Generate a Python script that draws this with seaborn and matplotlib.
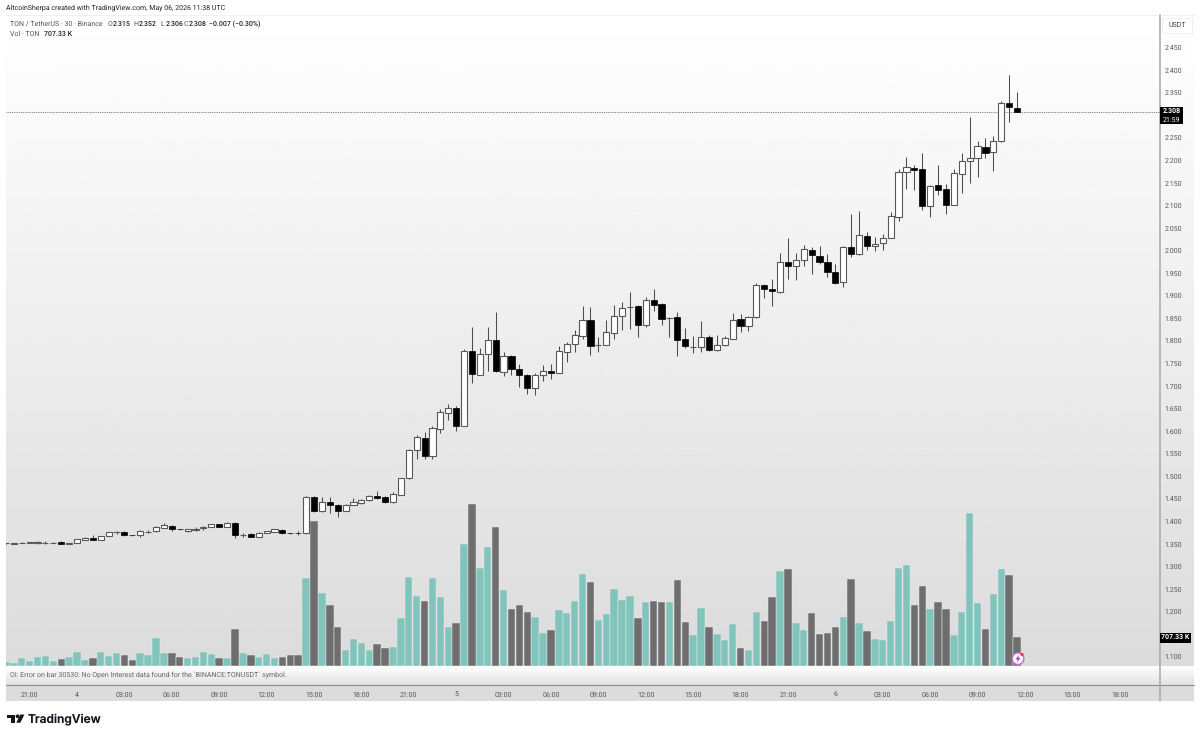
"""TON / USDT 30 min candles with volume, TradingView look."""
import numpy as np, pandas as pd
import matplotlib
matplotlib.use("Agg")
import matplotlib.pyplot as plt
from matplotlib.patches import Rectangle, Circle, Polygon
import seaborn as sns

opens = [1.351,1.350,1.353,1.353,1.353,1.352,1.353,1.355,1.349,1.353,
         1.358,1.363,1.359,1.368,1.376,1.376,1.3695,1.369,1.377,1.378,
         1.386,1.390,1.3825,1.379,1.380,1.386,1.388,1.393,1.388,1.397,
         1.370,1.371,1.366,1.374,1.377,1.380,1.3735,1.3735,1.373,1.453,
         1.423,1.443,1.437,1.423,1.437,1.440,1.447,1.456,1.453,1.442,
         1.459,1.495,1.559,1.585,1.544,1.605,1.641,1.652,1.612,1.777,
         1.725,1.770,1.802,1.731,1.767,1.737,1.725,1.696,1.724,1.734,
         1.729,1.776,1.793,1.810,1.845,1.790,1.791,1.817,1.856,1.875,
         1.876,1.834,1.891,1.881,1.851,1.853,1.804,1.787,1.787,1.809,
         1.779,1.791,1.805,1.849,1.832,1.852,1.924,1.915,1.909,1.975,
         1.965,1.979,2.002,1.988,1.975,1.953,1.930,2.008,1.993,2.033,
         2.010,2.016,2.028,2.075,2.173,2.183,2.180,2.098,2.145,2.136,
         2.101,2.170,2.198,2.204,2.230,2.219,2.242,2.328,2.315]
closes = [1.351,1.352,1.353,1.354,1.354,1.352,1.353,1.350,1.353,1.360,
          1.364,1.359,1.367,1.376,1.376,1.370,1.369,1.378,1.377,1.387,
          1.391,1.382,1.382,1.382,1.384,1.387,1.393,1.388,1.397,1.369,
          1.370,1.366,1.375,1.378,1.382,1.373,1.373,1.373,1.453,1.423,
          1.443,1.437,1.422,1.437,1.443,1.448,1.457,1.451,1.442,1.460,
          1.496,1.559,1.586,1.544,1.607,1.642,1.652,1.612,1.777,1.726,
          1.770,1.801,1.732,1.767,1.737,1.725,1.696,1.725,1.734,1.729,
          1.777,1.794,1.812,1.845,1.789,1.790,1.819,1.856,1.873,1.875,
          1.834,1.891,1.879,1.849,1.851,1.802,1.788,1.787,1.809,1.779,
          1.791,1.806,1.847,1.833,1.853,1.923,1.915,1.910,1.975,1.966,
          1.979,2.004,1.991,1.975,1.952,1.929,2.007,1.993,2.035,2.011,
          2.015,2.028,2.076,2.175,2.184,2.178,2.099,2.144,2.135,2.101,
          2.171,2.199,2.205,2.231,2.217,2.243,2.328,2.317,2.308]
highs = [1.352,1.353,1.355,1.355,1.357,1.356,1.354,1.357,1.353,1.361,
         1.366,1.369,1.368,1.377,1.379,1.379,1.370,1.381,1.380,1.390,
         1.396,1.392,1.383,1.383,1.387,1.390,1.394,1.394,1.398,1.398,
         1.374,1.373,1.376,1.379,1.383,1.382,1.375,1.378,1.456,1.457,
         1.454,1.453,1.438,1.438,1.452,1.450,1.458,1.468,1.455,1.465,
         1.497,1.561,1.591,1.598,1.612,1.648,1.659,1.655,1.781,1.831,
         1.783,1.831,1.864,1.775,1.768,1.748,1.726,1.729,1.746,1.748,
         1.788,1.798,1.825,1.876,1.874,1.808,1.847,1.879,1.885,1.908,
         1.879,1.896,1.915,1.884,1.853,1.864,1.828,1.810,1.844,1.813,
         1.813,1.811,1.861,1.859,1.855,1.929,1.926,1.938,1.994,2.027,
         1.995,2.012,2.007,2.011,1.992,1.970,2.010,2.080,2.087,2.042,
         2.030,2.036,2.085,2.180,2.208,2.189,2.217,2.145,2.189,2.147,
         2.181,2.217,2.295,2.243,2.250,2.254,2.331,2.388,2.352]
lows = [1.350,1.349,1.351,1.352,1.349,1.350,1.352,1.349,1.349,1.353,
        1.358,1.358,1.358,1.367,1.372,1.368,1.368,1.366,1.374,1.377,
        1.386,1.379,1.381,1.377,1.378,1.381,1.387,1.388,1.388,1.364,
        1.366,1.365,1.366,1.374,1.377,1.371,1.371,1.369,1.371,1.420,
        1.420,1.419,1.410,1.422,1.437,1.438,1.446,1.450,1.440,1.440,
        1.458,1.493,1.537,1.537,1.538,1.596,1.624,1.601,1.611,1.706,
        1.724,1.734,1.731,1.723,1.725,1.698,1.683,1.680,1.712,1.716,
        1.729,1.752,1.776,1.805,1.768,1.775,1.791,1.805,1.824,1.826,
        1.808,1.831,1.867,1.834,1.808,1.766,1.785,1.772,1.776,1.778,
        1.777,1.788,1.803,1.820,1.822,1.851,1.895,1.876,1.906,1.938,
        1.935,1.966,1.948,1.970,1.942,1.925,1.920,1.985,1.990,2.001,
        1.998,2.001,2.027,2.065,2.136,2.134,2.090,2.074,2.123,2.081,
        2.100,2.128,2.150,2.162,2.206,2.177,2.240,2.285,2.306]
volumes = [99,66,206,115,214,255,115,181,214,353,
           156,206,353,255,321,280,148,321,263,690,
           312,321,222,189,222,353,296,189,206,912,
           321,263,214,296,189,230,263,280,2178,3567,
           1800,1496,962,403,674,559,386,543,444,460,
           1192,2187,1734,1611,2162,1693,954,1069,3017,3995,
           2408,2935,3428,1882,1397,1512,1340,1217,822,888,
           1389,1299,1611,2277,2080,1126,1282,1899,1628,1734,
           1184,1570,1611,1570,1570,2113,1085,773,1430,954,
           797,649,1044,436,386,1340,1118,1693,2343,2384,
           1052,888,1307,789,814,970,1208,2154,1052,863,
           674,649,1118,2425,2491,1512,1965,1397,1578,1397,
           756,1340,3765,1562,912,1784,2392,2236,707]
# 1.15 and 2.30 sit under the black tags in the reference
price_ticks = [1.10,1.20,1.25,1.30,1.35,1.40,1.45,1.50,1.55,1.60,1.65,1.70,1.75,
               1.80,1.85,1.90,1.95,2.00,2.05,2.10,2.15,2.20,2.25,2.35,2.40,2.45]
time_tick_bars = [3,9,15,21,27,33,39,45,51,57,63,69,75,81,87,93,99,105,111,117,123,129,135,141]
time_labels = ["21:00","4","03:00","06:00","09:00","12:00","15:00","18:00",
               "21:00","5","03:00","06:00","09:00","12:00","15:00","18:00",
               "21:00","6","03:00","06:00","09:00","12:00","15:00","18:00"]
last_price = 2.308

TEAL = "#80c4bc"
GREY = "#6e6e6e"
FONT = "Roboto"
W, H = 1200, 736

sns.set_theme(style="white")
plt.rcParams["font.family"] = [FONT, "DejaVu Sans"]
plt.rcParams["text.hinting"] = "no_hinting"
plt.rcParams["text.hinting_factor"] = 1

df = pd.DataFrame({"bar": np.arange(len(opens)), "open": opens, "high": highs,
                   "low": lows, "close": closes, "vol": volumes})
df["dir"] = np.where(df["close"] >= df["open"], "up", "down")
up = df[df["dir"] == "up"]
down = df[df["dir"] == "down"]

fig = plt.figure(figsize=(W / 100, H / 100), dpi=100, facecolor="white")

def px_axes(x0, y0, x1, y1, z):
    return fig.add_axes([x0 / W, 1 - y1 / H, (x1 - x0) / W, (y1 - y0) / H], zorder=z)

# background panel, pixel coordinates ----------------------------------------
bg = px_axes(0, 0, W, H, 0)
bg.set_xlim(0, W); bg.set_ylim(H, 0); bg.axis("off")
grad = np.linspace(1.0, 0.86, 256).reshape(-1, 1)
bg.imshow(grad, extent=(6, 1194, 666, 15), cmap="gray", vmin=0, vmax=1, aspect="auto", zorder=1)
strip = np.linspace(1.0, 0.88, 64).reshape(-1, 1)
bg.imshow(strip, extent=(6, 1194, 685, 666), cmap="gray", vmin=0, vmax=1, aspect="auto", zorder=1)
bg.add_patch(Rectangle((6, 685), 1188, 16, color="#dcdcdc", lw=0, zorder=1))
bg.plot([6, 1194], [15, 15], color="#f0f0f0", lw=0.7, zorder=2)
bg.plot([6, 1194], [685.3, 685.3], color="#8c8c8c", lw=0.8, zorder=2)
bg.plot([1160, 1160], [15, 701], color="#adadad", lw=1.2, zorder=2)
bg.set_xlim(0, W); bg.set_ylim(H, 0)

# volume pane ----------------------------------------------------------------
ax_v = px_axes(6, 15, 1160, 666, 1)
ax_v.patch.set_alpha(0)
sns.barplot(data=df, x="bar", y="vol", hue="dir", palette={"up": TEAL, "down": GREY},
            native_scale=True, dodge=False, width=0.94, saturation=1, legend=False,
            edgecolor="#e8e8e8", linewidth=0.35, ax=ax_v)
ax_v.set_xlim(0.01, 146.1)
ax_v.set_ylim(0, 16047)
ax_v.axis("off")

# candles --------------------------------------------------------------------
ax = px_axes(6, 15, 1160, 666, 2)
ax.patch.set_alpha(0)
ax.vlines(df["bar"], df["low"], df["high"], color="#4d4d4d", lw=0.75, zorder=2)
ax.bar(up["bar"], up["close"] - up["open"], bottom=up["open"], width=0.78,
       color="white", edgecolor="#585858", linewidth=0.8, zorder=3)
ax.bar(down["bar"], down["open"] - down["close"], bottom=down["close"], width=0.78,
       color="black", edgecolor="black", linewidth=0.5, zorder=3)
ax.axhline(last_price, color="#555555", lw=0.6, ls=(0, (1, 1.2)), zorder=1)
ax.set_xlim(0.01, 146.1)
ax.set_ylim(1.0794, 2.5219)
for s in ax.spines.values():
    s.set_visible(False)
ax.yaxis.tick_right()
ax.set_yticks(price_ticks)
ax.set_yticklabels([f"{p:.3f}" for p in price_ticks])
ax.set_xticks(time_tick_bars)
ax.set_xticklabels(time_labels)
ax.tick_params(axis="y", length=0, pad=3.5, labelsize=5.0, labelcolor="#555555")
ax.tick_params(axis="x", length=0, pad=18.5, labelsize=5.0, labelcolor="#555555")
ax.grid(False)

# overlay text and tags, pixel coordinates -----------------------------------
ov = px_axes(0, 0, W, H, 5)
ov.set_xlim(0, W); ov.set_ylim(H, 0); ov.axis("off")

def label(x, y, s, color="#444444", size=5.1, ha="left", **kw):
    ov.text(x, y, s, color=color, fontsize=size, ha=ha, va="center", **kw)

label(6, 8, "AltcoinSherpa created with TradingView.com, May 06, 2026 11:38 UTC", "#222222", 4.95)
label(10, 24, "TON / TetherUS · 30 · Binance", "#555555")
for x, key, val in [(108, "O", "2.315"), (133.5, "H", "2.352"), (160.5, "L", "2.306"), (183.5, "C", "2.308")]:
    label(x, 24, key, "#555555")
    label(x + 4.8, 24, val, "#222222", 4.95, fontweight="medium")
label(209, 24, "−0.007 (−0.30%)", "#222222", 4.95, fontweight="medium")
label(10, 34, "Vol · TON", "#555555")
label(44, 34, "707.33 K", "#222222", fontweight="medium")
label(10, 674.7, "OI: Error on bar 30530: No Open Interest data found for the `BINANCE:TONUSDT` symbol.", "#666666", 5.15)

ov.add_patch(Rectangle((1162, 18), 30, 15, facecolor="white", edgecolor="#ececec", lw=0.6))
label(1177, 25.5, "USDT", "#444444", 5.2, ha="center")
ov.add_patch(Rectangle((1160, 107), 23, 17, color="black", lw=0))
label(1171.5, 111.3, "2.308", "white", 4.8, ha="center", fontweight="bold")
label(1171.5, 119.6, "21:59", "white", 4.8, ha="center")
ov.add_patch(Rectangle((1160, 632.5), 31, 10, color="black", lw=0))
label(1175.5, 637.5, "707.33 K", "white", 4.9, ha="center", fontweight="bold")

# bolt badge on the last bar
ov.add_patch(Circle((1018, 658.7), 5.8, facecolor="white", edgecolor="#c56fd6", lw=1.1))
ov.add_patch(Polygon([(1019.2, 654.8), (1015.4, 659.4), (1017.6, 659.4), (1016.8, 662.6),
                      (1020.6, 657.9), (1018.4, 657.9)], color="#a63fc4", lw=0))
ov.add_patch(Circle((1022, 654.5), 1.6, color="#f23645", lw=0))

# logo
ov.add_patch(Polygon([(7, 714.5), (15.3, 714.5), (15.3, 722.7), (11, 722.7), (11, 717.8), (7, 717.8)],
                     color="#131722", lw=0))
ov.add_patch(Circle((17.6, 716.3), 1.9, color="#131722", lw=0))
ov.add_patch(Polygon([(20.3, 714.5), (24.4, 714.5), (20.4, 722.7), (16.3, 722.7)], color="#131722", lw=0))
ov.text(28, 718.6, "TradingView", color="#131722", fontsize=8.6, fontweight="semibold",
        family=["Inter", "DejaVu Sans"], ha="left", va="center")

fig.savefig("out.png", dpi=100)
plt.close(fig)
